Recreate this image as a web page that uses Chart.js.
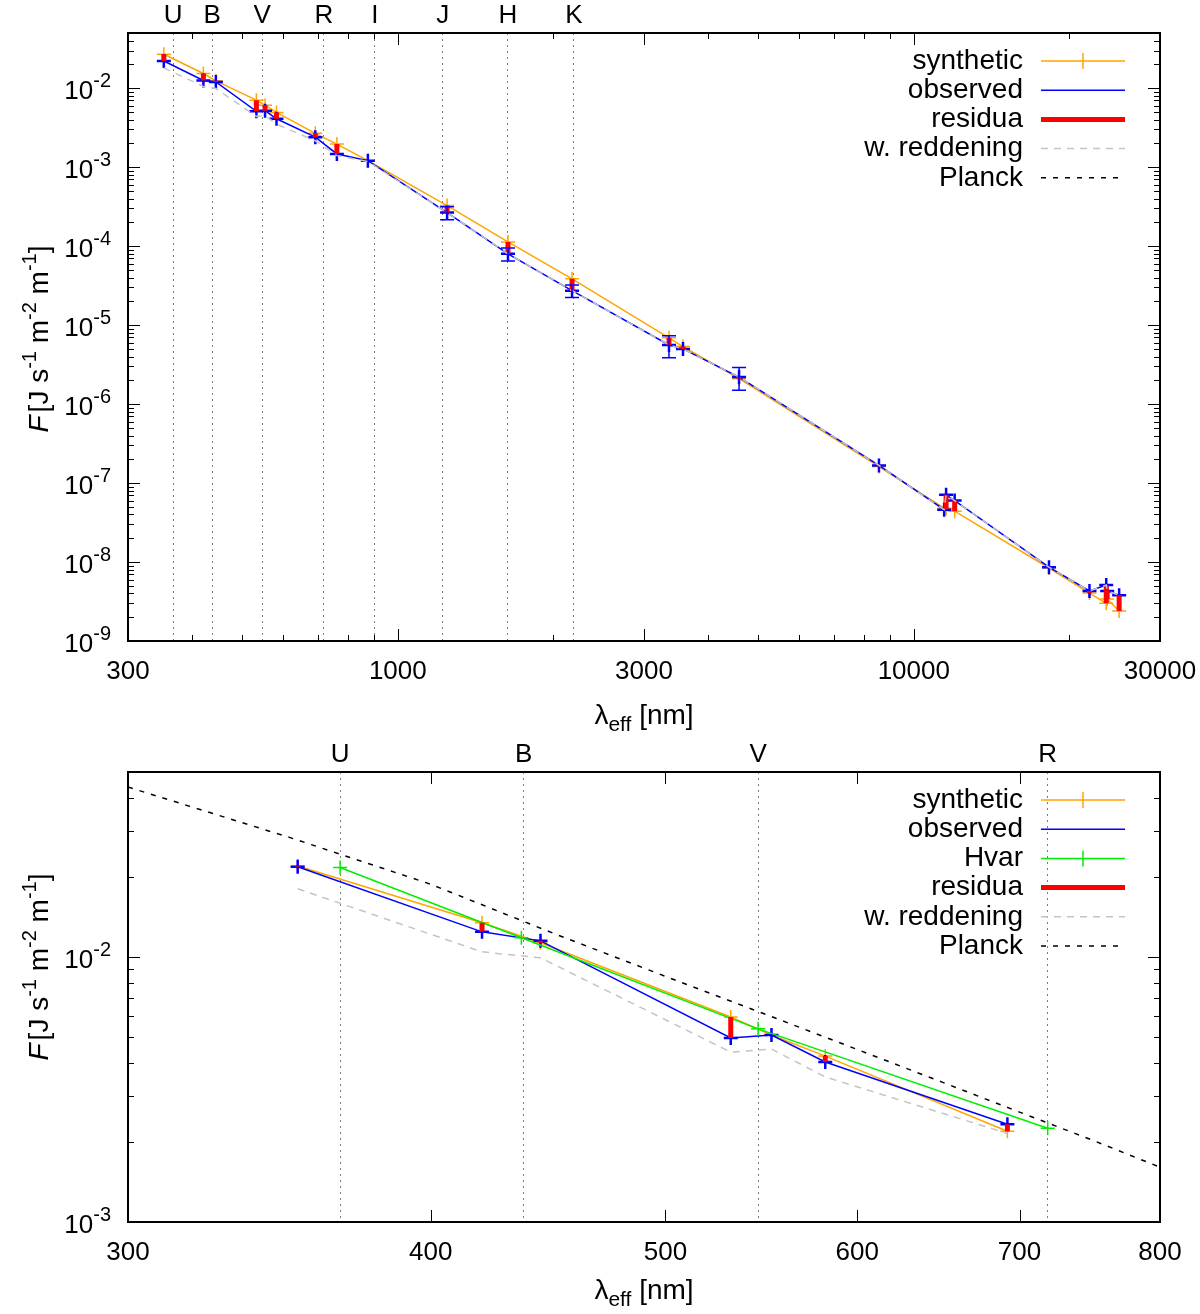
<!DOCTYPE html>
<html>
<head>
<meta charset="utf-8">
<title>SED</title>
<script src="https://cdn.jsdelivr.net/npm/chart.js@4.4.0/dist/chart.umd.min.js"></script>
<style>
  html, body { margin: 0; padding: 0; background: #fff; }
  canvas { display: block; }
</style>
</head>
<body>
<canvas id="sedChart" width="1200" height="735"></canvas>
<canvas id="zoomChart" width="1200" height="579"></canvas>
<script>
// photometric bands (effective wavelength, nm)
const bandNames = ['U', 'B', 'V', 'R', 'I', 'J', 'H', 'K'];
const bandLambda = [367, 437, 546, 719, 903, 1222, 1635, 2195];

// top panel: full SED
const sedLambda = [352, 420, 444, 532, 553, 582, 692, 762, 875, 1246, 1635, 2176, 3354, 3570, 4585,
  8560, 11450, 11550, 12000, 18280, 21900, 23600, 23700, 25000];
const sedObserved = [0.0221, 0.0125, 0.0120, 0.0051, 0.0052, 0.0041, 0.00240, 0.00147, 0.00121, 2.66e-4, 8.0e-5, 2.73e-5,
  5.6e-6, 5.0e-6, 2.2e-6, 1.67e-7, 4.6e-8, 7.1e-8, 6.0e-8, 8.6e-9, 4.3e-9, 5.1e-9, 4.3e-9, 3.8e-9];
const sedObsError = [0, 0, 0, 0, 0, 0, 0, 0, 0, 5e-5, 1.5e-5, 5e-6,
  1.75e-6, 0, 7e-7, 0, 0, 0, 0, 0, 0, 0, 0, 0];
const sedSynthetic = [0.0269, 0.01535, 0.0124, 0.00705, 0.0061, 0.00493, 0.00268, 0.00196, 0.00121, 3.26e-4, 1.13e-4, 3.86e-5,
  6.9e-6, 5.35e-6, 2.1e-6, 1.62e-7, 4.8e-8, 4.75e-8, 4.4e-8, 8.4e-9, 4.05e-9, 3.0e-9, 3.4e-9, 2.4e-9];
const sedReddened = [0.0181, 0.0105, 0.0099, 0.0044, 0.0045, 0.0035, 0.00216, 0.0014, 0.00118, 2.66e-4, 8.0e-5, 2.73e-5,
  5.6e-6, 5.0e-6, 2.2e-6, 1.67e-7, 4.6e-8, 7.1e-8, 6.0e-8, 8.6e-9, 4.3e-9, 5.1e-9, 4.3e-9, 3.8e-9];

// bottom panel: UBVR detail
const uvLambda = [352.5, 420, 444, 532, 553, 582, 692];
const uvObserved = [0.02195, 0.01246, 0.01152, 0.00495, 0.00508, 0.00402, 0.00234];
const uvSynthetic = [0.0221, 0.01348, 0.01133, 0.00594, 0.00508, 0.00423, 0.0022];
const uvReddened = [0.01812, 0.01047, 0.00994, 0.00438, 0.0045, 0.00353, 0.00216];
const hvarLambda = [367, 436, 546, 719];
const hvarFlux = [0.0218, 0.01183, 0.00536, 0.00226];
const planckLambda = [300, 350, 400, 450, 500, 550, 600, 650, 700, 750, 800];
const planckFlux = [0.04387, 0.02826, 0.01885, 0.01225, 0.00846, 0.00608, 0.00448, 0.00338, 0.0026, 0.00204, 0.00161];

// axis ticks
const topXTicks = [300, 1000, 3000, 10000, 30000];
const topXMinor = [400, 500, 600, 700, 800, 900, 2000, 4000, 5000, 6000, 7000, 8000, 9000, 20000];
const botXTicks = [300, 400, 500, 600, 700, 800];

const FONT = '"Liberation Sans", Arial, Helvetica, sans-serif';
Chart.defaults.font.family = FONT;
Chart.defaults.font.size = 26;
Chart.defaults.color = '#000';

const C = { syn: '#ffa500', obs: '#0000ff', hvar: '#00ee00', res: '#ff0000', red: '#c4c4c4', planck: '#000000' };

function pts(xs, ys) {
  return xs.map((x, i) => ({ x: x, y: ys[i] }));
}

// vertical bars obs -> syn, separated by gaps
function residua(xs, a, b) {
  const out = [];
  xs.forEach((x, i) => { out.push({ x: x, y: a[i] }, { x: x, y: b[i] }, { x: x, y: null }); });
  return out;
}

function decades(lo, hi) {
  const out = [];
  for (let e = Math.ceil(Math.log10(lo) - 1e-9); Math.pow(10, e) <= hi * 1.0001; e++) out.push(Math.pow(10, e));
  return out;
}

function minorLog(lo, hi) {
  const out = [];
  for (let e = Math.floor(Math.log10(lo)); e <= Math.ceil(Math.log10(hi)); e++) {
    for (let m = 2; m <= 9; m++) {
      const v = m * Math.pow(10, e);
      if (v > lo * 1.0001 && v < hi * 0.9999) out.push(v);
    }
  }
  return out;
}

// text runs: [text, size, raise, italic, extra gap after]
function richText(ctx, parts, x, y, align) {
  const f = p => (p[3] ? 'italic ' : '') + p[1] + 'px ' + FONT;
  let w = 0;
  parts.forEach(p => { ctx.font = f(p); w += ctx.measureText(p[0]).width + (p[4] || 0); });
  let cx = align === 'right' ? x - w : align === 'center' ? x - w / 2 : x;
  parts.forEach(p => {
    ctx.font = f(p);
    ctx.fillText(p[0], cx, y - p[2]);
    cx += ctx.measureText(p[0]).width + (p[4] || 0);
  });
}

// blue error bars with caps
const errorBars = {
  id: 'errorBars',
  afterDatasetsDraw(chart) {
    const { ctx, scales: { x, y } } = chart;
    chart.data.datasets.forEach(ds => {
      if (!ds.errors) return;
      ctx.save();
      ctx.strokeStyle = ds.borderColor;
      ctx.lineWidth = 1.5;
      ds.data.forEach((p, j) => {
        const e = ds.errors[j];
        if (!e) return;
        const px = x.getPixelForValue(p.x);
        const t = y.getPixelForValue(p.y + e);
        const b = y.getPixelForValue(p.y - e);
        ctx.beginPath();
        ctx.moveTo(px, t); ctx.lineTo(px, b);
        ctx.moveTo(px - 7, t); ctx.lineTo(px + 7, t);
        ctx.moveTo(px - 7, b); ctx.lineTo(px + 7, b);
        ctx.stroke();
      });
      ctx.restore();
    });
  }
};

// gnuplot-like frame with inward ticks on all sides
const frameTicks = {
  id: 'frameTicks',
  afterDatasetsDraw(chart, args, opt) {
    const { ctx, chartArea: a, scales: { x, y } } = chart;
    ctx.save();
    ctx.strokeStyle = '#000';
    ctx.lineWidth = 1;
    ctx.beginPath();
    const xt = (v, len) => {
      const p = Math.round(x.getPixelForValue(v)) + 0.5;
      ctx.moveTo(p, a.bottom); ctx.lineTo(p, a.bottom - len);
      ctx.moveTo(p, a.top); ctx.lineTo(p, a.top + len);
    };
    const yt = (v, len) => {
      const p = Math.round(y.getPixelForValue(v)) + 0.5;
      ctx.moveTo(a.left, p); ctx.lineTo(a.left + len, p);
      ctx.moveTo(a.right, p); ctx.lineTo(a.right - len, p);
    };
    opt.xMajor.forEach(v => xt(v, 12));
    opt.xMinor.forEach(v => xt(v, 6));
    opt.yMajor.forEach(v => yt(v, 12));
    opt.yMinor.forEach(v => yt(v, 6));
    ctx.stroke();
    ctx.lineWidth = 2;
    ctx.strokeRect(a.left, a.top, a.right - a.left, a.bottom - a.top);
    ctx.restore();
  }
};

// key: text right aligned, sample line to the right
const keyBox = {
  id: 'keyBox',
  afterDraw(chart, args, opt) {
    const ctx = chart.ctx;
    ctx.save();
    ctx.font = '28px ' + FONT;
    ctx.textAlign = 'right';
    ctx.textBaseline = 'middle';
    ctx.fillStyle = '#000';
    chart.data.datasets.forEach((ds, i) => {
      const yy = opt.top + i * 29.2;
      ctx.fillText(ds.label, 1023, yy);
      ctx.strokeStyle = ds.borderColor;
      ctx.lineWidth = ds.borderWidth;
      ctx.setLineDash(ds.borderDash || []);
      ctx.beginPath();
      ctx.moveTo(1041, yy); ctx.lineTo(1125, yy);
      ctx.stroke();
      ctx.setLineDash([]);
      if (ds.keyMarker) {
        ctx.lineWidth = 1.5;
        ctx.beginPath();
        ctx.moveTo(1083, yy - 8); ctx.lineTo(1083, yy + 8);
        ctx.stroke();
      }
    });
    ctx.restore();
  }
};

// y tick labels 10^n and axis titles
const axisText = {
  id: 'axisText',
  afterDraw(chart, args, opt) {
    const { ctx, chartArea: a, scales: { y } } = chart;
    ctx.save();
    ctx.fillStyle = '#000';
    ctx.textAlign = 'left';
    ctx.textBaseline = 'alphabetic';

    opt.yMajor.forEach(v => {
      const py = y.getPixelForValue(v);
      richText(ctx, [['10', 26, 0], [String(Math.round(Math.log10(v))), 20, 12]], 111, py + 11, 'right');
    });

    richText(ctx, [['\u03bb', 28, 0], ['eff', 21, -7], [' [nm]', 28, 0]], (a.left + a.right) / 2, opt.xBase, 'center');

    ctx.translate(opt.yBase, opt.yMid);
    ctx.rotate(-Math.PI / 2);
    richText(ctx, [['F', 28, 0, true, 3], ['[J s', 28, 0], ['-1', 20, 12], [' m', 28, 0], ['-2', 20, 12],
      [' m', 28, 0], ['-1', 20, 12], [']', 28, 0]], 0, 0, 'center');
    ctx.restore();
  }
};

function makeChart(id, o) {
  const bands = bandLambda.map((v, i) => ({ v: v, n: bandNames[i] })).filter(b => b.v > o.xMin && b.v < o.xMax);
  const yMajor = decades(o.yMin, o.yMax);
  const noSidePad = s => { s.paddingLeft = 0; s.paddingRight = 0; };
  return new Chart(document.getElementById(id), {
    type: 'line',
    data: { datasets: o.datasets },
    options: {
      responsive: false,
      animation: false,
      devicePixelRatio: 1,
      layout: { padding: { left: 0, right: 40, top: 0, bottom: 0 } },
      plugins: {
        legend: { display: false },
        tooltip: { enabled: false },
        frameTicks: { xMajor: o.xTicks, xMinor: o.xMinor, yMajor: yMajor, yMinor: minorLog(o.yMin, o.yMax) },
        keyBox: { top: o.keyTop },
        axisText: { yMajor: yMajor, xBase: o.xTitleBase, yBase: 48, yMid: o.yTitleMid }
      },
      scales: {
        x: {
          type: 'logarithmic', position: 'bottom', bounds: 'data', min: o.xMin, max: o.xMax,
          afterBuildTicks: s => { s.ticks = o.xTicks.map(v => ({ value: v })); },
          afterFit: s => { s.height = o.bottomH; noSidePad(s); },
          ticks: { autoSkip: false, maxRotation: 0, padding: 15, callback: v => String(v) },
          grid: { display: false, drawTicks: false },
          border: { display: false }
        },
        x2: {
          type: 'logarithmic', position: 'top', bounds: 'data', min: o.xMin, max: o.xMax,
          afterBuildTicks: s => { s.ticks = bands.map(b => ({ value: b.v })); },
          afterFit: s => { s.height = o.topH; noSidePad(s); },
          ticks: { autoSkip: false, maxRotation: 0, padding: 2, callback: (v, i) => bands[i].n },
          grid: { display: true, drawOnChartArea: true, drawTicks: false, color: '#7a7a7a', lineWidth: 1 },
          border: { display: false, dash: [2, 4] }
        },
        y: {
          type: 'logarithmic', position: 'left', bounds: 'data', min: o.yMin, max: o.yMax,
          afterBuildTicks: s => { s.ticks = yMajor.map(v => ({ value: v })); },
          afterFit: s => { s.width = 128; },
          ticks: { display: false },
          grid: { display: false, drawTicks: false },
          border: { display: false }
        }
      }
    },
    plugins: [errorBars, frameTicks, keyBox, axisText]
  });
}

const lineBase = { fill: false, tension: 0, spanGaps: false };

makeChart('sedChart', {
  xMin: 300, xMax: 30000, yMin: 1e-9, yMax: 0.05,
  xTicks: topXTicks, xMinor: topXMinor,
  topH: 33, bottomH: 94, keyTop: 61, xTitleBase: 724, yTitleMid: 339,
  datasets: [
    { ...lineBase, label: 'synthetic', data: pts(sedLambda, sedSynthetic), borderColor: C.syn, backgroundColor: C.syn,
      borderWidth: 1.5, pointStyle: 'cross', pointRadius: 7, pointBorderWidth: 1.5, keyMarker: true, order: 6 },
    { ...lineBase, label: 'observed', data: pts(sedLambda, sedObserved), errors: sedObsError, borderColor: C.obs,
      backgroundColor: C.obs, borderWidth: 1.5, pointStyle: 'cross', pointRadius: 7, pointBorderWidth: 2.5, order: 5 },
    { ...lineBase, label: 'residua', data: residua(sedLambda, sedObserved, sedSynthetic), borderColor: C.res,
      backgroundColor: C.res, borderWidth: 5, pointRadius: 0, order: 3 },
    { ...lineBase, label: 'w. reddening', data: pts(sedLambda, sedReddened), borderColor: C.red, backgroundColor: C.red,
      borderWidth: 1.5, borderDash: [7, 6], pointRadius: 0, order: 2 },
    { ...lineBase, label: 'Planck', data: [], borderColor: C.planck, backgroundColor: C.planck,
      borderWidth: 1.5, borderDash: [5, 7], pointRadius: 0, order: 1 }
  ]
});

makeChart('zoomChart', {
  xMin: 300, xMax: 800, yMin: 1e-3, yMax: 0.05,
  xTicks: botXTicks, xMinor: [],
  topH: 37, bottomH: 92, keyTop: 65, xTitleBase: 564, yTitleMid: 232,
  datasets: [
    { ...lineBase, label: 'synthetic', data: pts(uvLambda, uvSynthetic), borderColor: C.syn, backgroundColor: C.syn,
      borderWidth: 1.5, pointStyle: 'cross', pointRadius: 7, pointBorderWidth: 1.5, keyMarker: true, order: 7 },
    { ...lineBase, label: 'observed', data: pts(uvLambda, uvObserved), borderColor: C.obs, backgroundColor: C.obs,
      borderWidth: 1.5, pointStyle: 'cross', pointRadius: 7, pointBorderWidth: 2.5, order: 6 },
    { ...lineBase, label: 'Hvar', data: pts(hvarLambda, hvarFlux), borderColor: C.hvar, backgroundColor: C.hvar,
      borderWidth: 1.5, pointStyle: 'cross', pointRadius: 7, pointBorderWidth: 1.5, keyMarker: true, order: 5 },
    { ...lineBase, label: 'residua', data: residua(uvLambda, uvObserved, uvSynthetic), borderColor: C.res,
      backgroundColor: C.res, borderWidth: 5, pointRadius: 0, order: 3 },
    { ...lineBase, label: 'w. reddening', data: pts(uvLambda, uvReddened), borderColor: C.red, backgroundColor: C.red,
      borderWidth: 1.5, borderDash: [7, 6], pointRadius: 0, order: 2 },
    { ...lineBase, label: 'Planck', data: pts(planckLambda, planckFlux), borderColor: C.planck, backgroundColor: C.planck,
      borderWidth: 1.5, borderDash: [5, 7], pointRadius: 0, order: 1 }
  ]
});
</script>
</body>
</html>
